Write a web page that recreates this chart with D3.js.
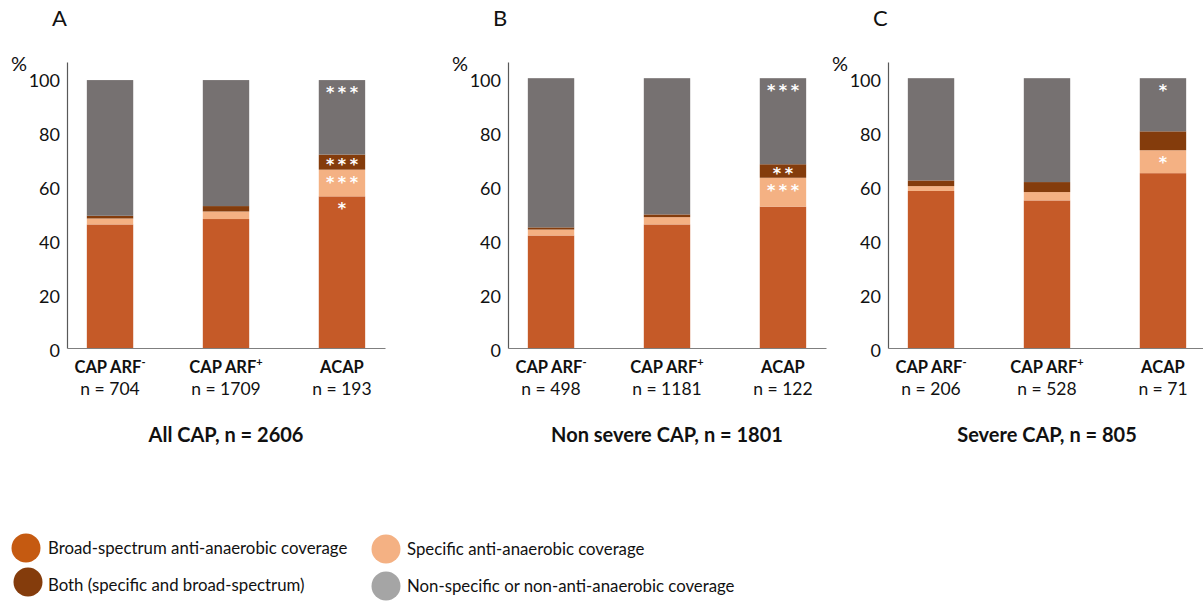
<!DOCTYPE html>
<html>
<head>
<meta charset="utf-8">
<script src="https://cdn.jsdelivr.net/npm/d3@7"></script>
<style>
  html, body { margin: 0; padding: 0; background: #fff; }
  svg { display: block; font-family: Lato, "Noto Sans", sans-serif; }
</style>
</head>
<body>
<svg id="chart" width="1203" height="602"></svg>
<script>
// Panel identifiers and titles
const panelLetters = ["A", "B", "C"];
const panelTitles = ["All CAP, n = 2606", "Non severe CAP, n = 1801", "Severe CAP, n = 805"];

// Groups on the x axis (base name + superscript)
const categories = ["CAP ARF", "CAP ARF", "ACAP"];
const categorySup = ["-", "+", ""];
const sampleSizes = [[704, 1709, 193], [498, 1181, 122], [206, 528, 71]];

// Percent of patients per coverage type, per panel, per group
const broadSpectrum = [[45.8, 47.8, 56.2], [41.7, 45.8, 52.4], [58.2, 54.7, 64.8]];
const specificOnly  = [[2.2, 2.8, 9.9],    [2.2, 2.7, 10.7],   [1.8, 3.1, 8.5]];
const bothCoverage  = [[1.0, 2.0, 5.6],    [0.8, 1.0, 5.0],    [2.1, 3.7, 7.0]];
const nonSpecific   = [[50.3, 46.7, 27.6], [55.3, 50.5, 31.9], [37.9, 38.5, 19.7]];

// Significance marks per coverage type
const sigBroad       = [["", "", "*"],   ["", "", ""],    ["", "", ""]];
const sigSpecific    = [["", "", "***"], ["", "", "***"], ["", "", "*"]];
const sigBoth        = [["", "", "***"], ["", "", "**"],  ["", "", ""]];
const sigNonSpecific = [["", "", "***"], ["", "", "***"], ["", "", "*"]];

const yTicks = [0, 20, 40, 60, 80, 100];

const seriesKeys = ["broad", "specific", "both", "nonspecific"];
const seriesLabels = {
  broad: "Broad-spectrum anti-anaerobic coverage",
  specific: "Specific anti-anaerobic coverage",
  both: "Both (specific and broad-spectrum)",
  nonspecific: "Non-specific or non-anti-anaerobic coverage"
};
const barColors = { broad: "#C55A28", specific: "#F4B183", both: "#843C0C", nonspecific: "#767171" };
const legendColors = { broad: "#C55A11", specific: "#F4B183", both: "#843C0C", nonspecific: "#A5A5A5" };

const svg = d3.select("#chart");

// Layout of the three panels
const axisLeftX = [67, 508, 888];
const plotWidth = 318;
const y = d3.scaleLinear().domain([0, 106]).range([348, 62]);

panelLetters.forEach((letter, p) => {
  const x0 = axisLeftX[p];
  const g = svg.append("g").attr("transform", `translate(${x0},0)`);

  const x = d3.scaleBand()
    .domain(d3.range(categories.length))
    .range([0, plotWidth])
    .paddingInner(0.6)
    .paddingOuter(0.171);

  const rows = categories.map((c, i) => ({
    idx: i,
    broad: broadSpectrum[p][i],
    specific: specificOnly[p][i],
    both: bothCoverage[p][i],
    nonspecific: nonSpecific[p][i]
  }));
  const stacked = d3.stack().keys(seriesKeys)(rows);
  const sigs = { broad: sigBroad[p], specific: sigSpecific[p], both: sigBoth[p], nonspecific: sigNonSpecific[p] };

  // stacked bars
  stacked.forEach(layer => {
    g.append("g")
      .selectAll("rect")
      .data(layer)
      .join("rect")
      .attr("x", d => x(d.data.idx))
      .attr("width", x.bandwidth())
      .attr("y", d => y(d[1]))
      .attr("height", d => y(d[0]) - y(d[1]))
      .attr("fill", barColors[layer.key]);
  });

  // significance asterisks
  const ls = 3.5;
  stacked.forEach(layer => {
    layer.forEach((d, i) => {
      const mark = sigs[layer.key][i];
      if (!mark) return;
      const top = y(d[1]);
      const h = y(d[0]) - y(d[1]);
      const cy = top + Math.min(10, h / 2);
      g.append("text")
        .attr("x", x(i) + x.bandwidth() / 2 + ls / 2)
        .attr("y", cy + 8)
        .attr("text-anchor", "middle")
        .attr("fill", "#fff")
        .attr("font-family", "'DejaVu Sans', sans-serif")
        .attr("font-weight", 700)
        .attr("font-size", 16)
        .attr("letter-spacing", ls)
        .text(mark);
    });
  });

  // y axis
  const yAxis = g.append("g")
    .call(d3.axisLeft(y).tickValues(yTicks).tickSize(0).tickSizeOuter(0).tickPadding(7));
  yAxis.select(".domain").attr("stroke", "#595959").attr("stroke-width", 1.2);
  yAxis.selectAll(".tick text")
    .attr("font-size", 18)
    .attr("font-family", "Lato, sans-serif")
    .attr("fill", "#111")
    .attr("dy", "0.45em");

  // x axis
  const xAxis = g.append("g")
    .attr("transform", `translate(0,${y(0)})`)
    .call(d3.axisBottom(x).tickSize(0).tickSizeOuter(0).tickFormat(""));
  xAxis.select(".domain").attr("stroke", "#7f7f7f").attr("stroke-width", 1.2);

  // category labels
  categories.forEach((c, i) => {
    const cx = x(i) + x.bandwidth() / 2;
    const t = g.append("text")
      .attr("x", cx).attr("y", 373)
      .attr("text-anchor", "middle")
      .attr("font-weight", 700)
      .attr("font-size", 16.5)
      .attr("fill", "#111");
    t.append("tspan").text(c);
    if (categorySup[i]) {
      t.append("tspan").attr("font-size", 11).attr("dy", -7).text(categorySup[i]);
    }
    g.append("text")
      .attr("x", cx).attr("y", 395)
      .attr("text-anchor", "middle")
      .attr("font-size", 17.5)
      .attr("fill", "#111")
      .text(`n = ${sampleSizes[p][i]}`);
  });

  // panel title
  g.append("text")
    .attr("x", x(1) + x.bandwidth() / 2).attr("y", 442)
    .attr("text-anchor", "middle")
    .attr("font-weight", 700)
    .attr("font-size", 20)
    .attr("fill", "#111")
    .text(panelTitles[p]);

  // unit label
  g.append("text")
    .attr("x", -40).attr("y", 71)
    .attr("text-anchor", "end")
    .attr("font-size", 20)
    .attr("fill", "#111")
    .text("%");

  // panel letter
  g.append("text")
    .attr("x", -15).attr("y", 26)
    .attr("font-size", 22)
    .attr("fill", "#111")
    .text(letter);
});

// legend
const legendItems = [
  { key: "broad", cx: 26, cy: 548, tx: 48, ty: 554 },
  { key: "both", cx: 28, cy: 582, tx: 48, ty: 591 },
  { key: "specific", cx: 386, cy: 549, tx: 407, ty: 555 },
  { key: "nonspecific", cx: 386, cy: 586, tx: 407, ty: 592 }
];
const legend = svg.append("g");
legendItems.forEach(it => {
  legend.append("circle").attr("cx", it.cx).attr("cy", it.cy).attr("r", 14.5)
    .attr("fill", legendColors[it.key]);
  legend.append("text").attr("x", it.tx).attr("y", it.ty)
    .attr("font-size", 16.8).attr("fill", "#111")
    .text(seriesLabels[it.key]);
});
</script>
</body>
</html>
